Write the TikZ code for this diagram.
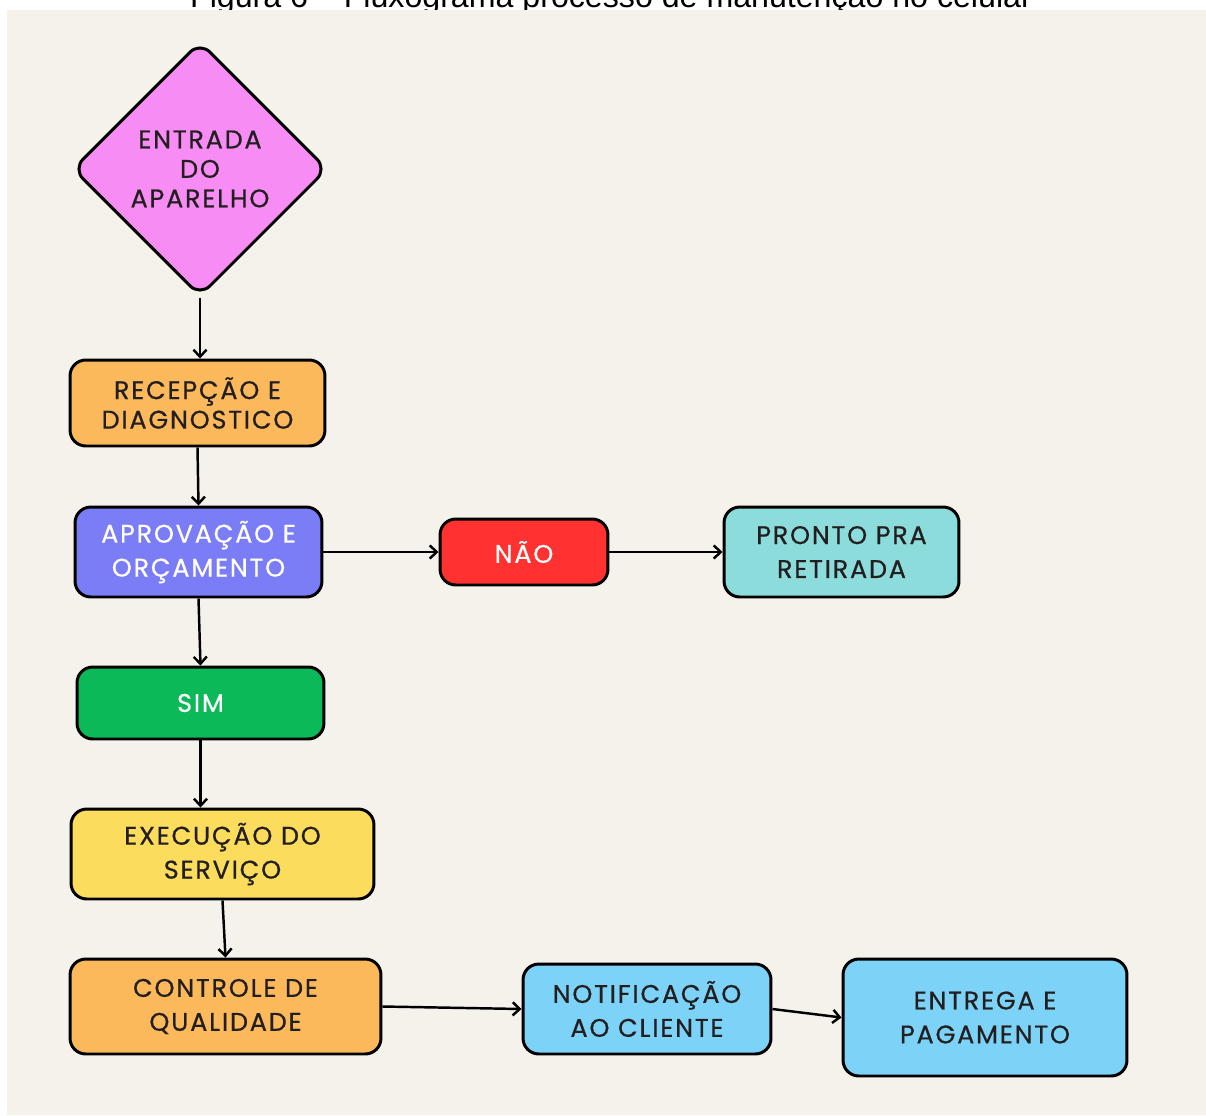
\documentclass[tikz,border=0pt]{standalone}
\usepackage{fontspec}
\setmainfont{Poppins}[LetterSpace=7, FakeBold=0.6]
\newfontfamily\titlefont{Liberation Sans}
\usepackage{xcolor}
\definecolor{fundoBege}{HTML}{F5F2EB}
\definecolor{textoEscuro}{HTML}{231F20}
\definecolor{corEntrada}{HTML}{F78CF4}
\definecolor{corLaranja}{HTML}{FBB95C}
\definecolor{corAprovacao}{HTML}{7B7DF6}
\definecolor{corNao}{HTML}{FF3131}
\definecolor{corPronto}{HTML}{8DDCDC}
\definecolor{corSim}{HTML}{0CB958}
\definecolor{corExecucao}{HTML}{FCDC5C}
\definecolor{corAzul}{HTML}{7DD3F7}
\usetikzlibrary{shapes.geometric,arrows.meta}

\tikzset{
  etapa/.style={draw=black, line width=1.7pt, rounded corners=9pt, align=center,
    inner sep=0pt, text=textoEscuro, font=\fontsize{14.5}{19.3}\selectfont},
  apertado/.style={font=\fontsize{14.5}{16.8}\selectfont},
  seta/.style={line width=1.4pt, -{Straight Barb[length=4pt,width=7.5pt,line width=1.4pt]}}
}

\begin{document}
\begin{tikzpicture}[x=0.02cm, y=-0.02cm]
  \useasboundingbox (0,0) rectangle (1206,1115);
  \node[anchor=base, font=\titlefont\fontsize{18.3}{20}\selectfont] (titulo) at (611,8)
    {Figura 6 – Fluxograma processo de manutenção no celular};
  \fill[fundoBege] (7,10) rectangle (1206,1115);

  \node[etapa, apertado, diamond, fill=corEntrada, minimum width=5.1cm, minimum height=5.1cm,
    rounded corners=8pt] (entrada) at (200,169) {ENTRADA\\DO\\APARELHO};
  \node[etapa, apertado, fill=corLaranja, minimum width=5.1cm, minimum height=1.72cm] (recepcao) at (197.5,403) {RECEPÇÃO E\\DIAGNOSTICO};
  \node[etapa, fill=corAprovacao, text=white, minimum width=4.94cm, minimum height=1.8cm] (aprovacao) at (198.5,552) {APROVAÇÃO E\\ORÇAMENTO};
  \node[etapa, fill=corNao, text=white, minimum width=3.36cm, minimum height=1.32cm] (nao) at (524,552) {NÃO};
  \node[etapa, fill=corPronto, minimum width=4.7cm, minimum height=1.8cm] (pronto) at (841.5,552) {PRONTO PRA\\RETIRADA};
  \node[etapa, fill=corSim, text=white, minimum width=4.94cm, minimum height=1.44cm] (sim) at (200.5,703) {SIM};
  \node[etapa, fill=corExecucao, minimum width=6.06cm, minimum height=1.8cm] (execucao) at (222.5,854) {EXECUÇÃO DO\\SERVIÇO};
  \node[etapa, fill=corLaranja, minimum width=6.22cm, minimum height=1.9cm] (controle) at (225.5,1006.5) {CONTROLE DE\\QUALIDADE};
  \node[etapa, fill=corAzul, minimum width=4.96cm, minimum height=1.8cm] (notificacao) at (647,1009) {NOTIFICAÇÃO\\AO CLIENTE};
  \node[etapa, fill=corAzul, minimum width=5.68cm, minimum height=2.34cm] (entrega) at (985,1017.5) {ENTREGA E\\PAGAMENTO};

  % ligacoes
  \draw[seta] (entrada.south) -- (recepcao.north -| entrada.south);
  \draw[seta] (recepcao.south) -- (aprovacao.north);
  \draw[seta] (aprovacao.east) -- (nao.west);
  \draw[seta] (nao.east) -- (pronto.west);
  \draw[seta] (aprovacao.south) -- (sim.north);
  \draw[seta] (sim.south) -- (execucao.north -| sim.south);
  \draw[seta] (execucao.south) -- (controle.north);
  \draw[seta] (controle.east) -- (notificacao.west);
  \draw[seta] (notificacao.east) -- (entrega.west);
\end{tikzpicture}
\end{document}
